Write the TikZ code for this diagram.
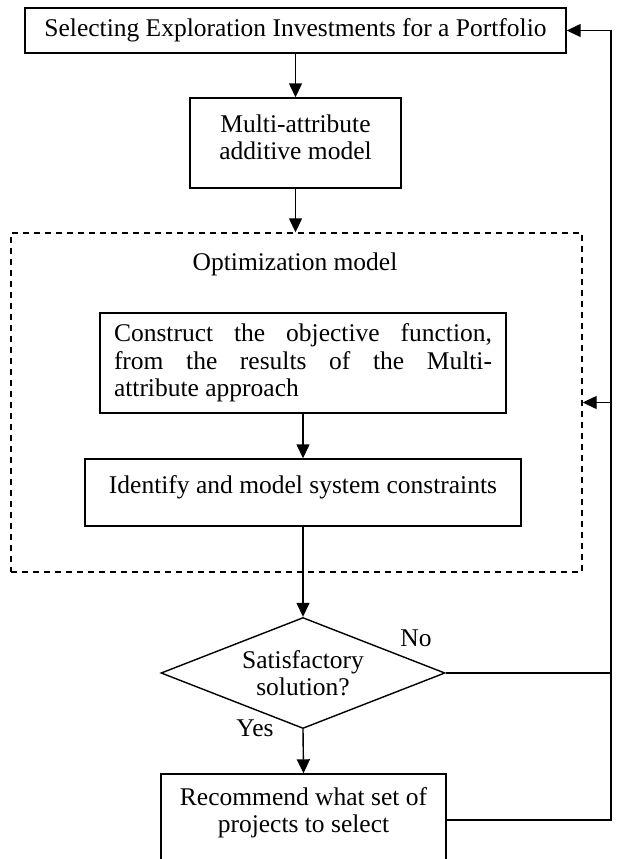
\documentclass[tikz,border=0pt]{standalone}
\usepackage{fontspec}
\setmainfont{Liberation Serif}
\usetikzlibrary{arrows.meta,shapes.geometric}

\begin{document}
\begin{tikzpicture}[x=1pt, y=-1pt,
		every node/.style={font=\fontsize{25.5}{27.5}\selectfont},
		block/.style={draw, line width=1.4pt, rectangle, inner sep=0pt},
		choice/.style={draw, line width=1.4pt, diamond, aspect=2.56, inner sep=0pt},
		group/.style={draw, line width=1.4pt, dash pattern=on 6pt off 5pt, rectangle, inner sep=0pt},
		link/.style={line width=1.4pt},
		flow/.style={line width=1.4pt, -{Triangle[length=14pt, width=13pt]}}]
		% рамка
		\useasboundingbox ( 0, 0 ) rectangle ( 616, 859 );

		% блоки
		\node [block, minimum width=541pt, minimum height=45pt] (top) at ( 295.5, 30.5 ) {Selecting Exploration Investments for a Portfolio};
		\node [block, minimum width=211pt, minimum height=90pt, align=center, text depth=12pt] (multi) at ( 295.5, 143 ) {Multi-attribute\\additive model};
		\node [group, minimum width=571pt, minimum height=339pt] (opt) at ( 296.5, 402.5 ) {};
		\node (optlabel) at ( 295, 264 ) {Optimization model};
		\node [block, minimum width=406pt, minimum height=100pt, text width=378pt, align=justify] (obj) at ( 303, 363 ) {Construct the objective function, from the results of the Multi-\linebreak attribute approach};
		\node [block, minimum width=436pt, minimum height=67pt, text depth=15pt] (cons) at ( 303, 492.5 ) {Identify and model system constraints};
		\node [choice, minimum width=284pt, minimum height=111pt, align=center] (sat) at ( 303, 673 ) {Satisfactory\\solution?};
		\node [block, minimum width=285pt, minimum height=92pt, align=center, text depth=20pt] (rec) at ( 303.5, 820 ) {Recommend what set of\\projects to select};

		% метки
		\node (no) at ( 416, 638 ) {No};
		\node (yes) at ( 255, 728 ) {Yes};

		% связи
		\coordinate (back) at ( 611, 30.5 );
		\draw [flow] (top.south -| multi) -- (multi.north);
		\draw [flow] (multi.south) -- (multi.south |- opt.north);
		\draw [flow] (obj.south) -- (cons.north);
		\draw [flow] (cons.south) -- (sat.north);
		\draw [flow] (sat.south) -- (rec.north);
		\draw [link] (sat.east) -- (sat.east -| back);
		\draw [flow] (rec.east) -| (back) -- (top.east);
		\draw [flow] (opt.east -| back) -- (opt.east);
	\end{tikzpicture}
\end{document}
